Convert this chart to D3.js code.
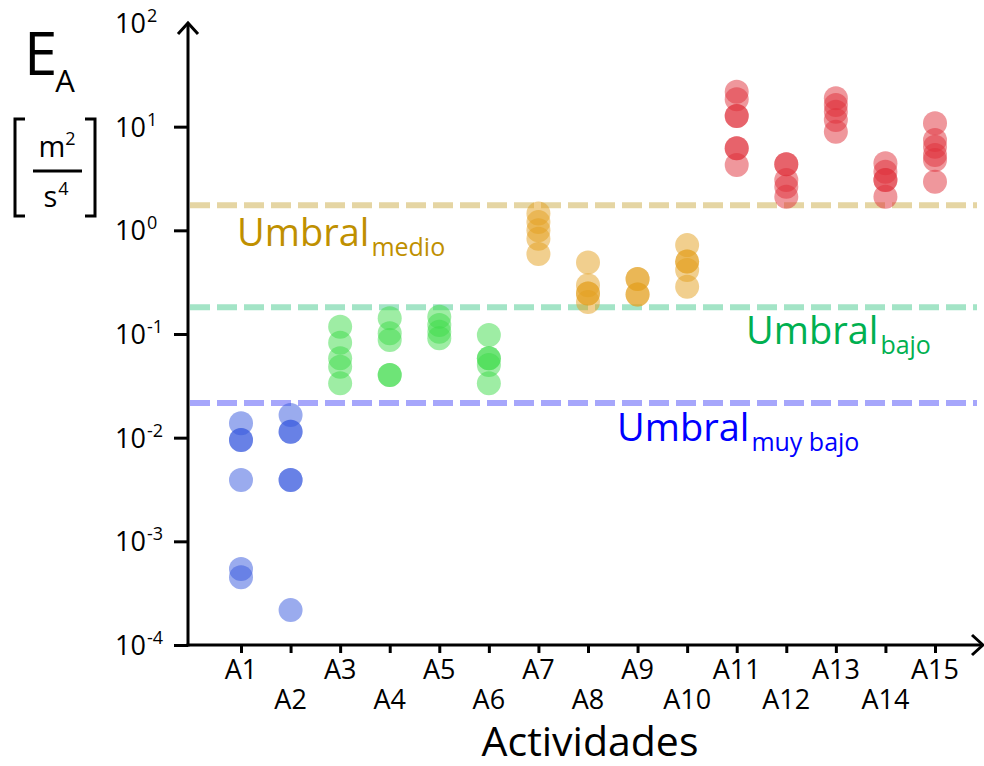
<!DOCTYPE html>
<html>
<head>
<meta charset="utf-8">
<script src="https://cdn.jsdelivr.net/npm/d3@7"></script>
<style>
  html, body { margin: 0; padding: 0; background: #fff; }
  svg { display: block; font-family: "Open Sans", "DejaVu Sans", sans-serif; }
</style>
</head>
<body>
<svg id="chart" width="984" height="766"></svg>
<script>
// Activities on the x axis
const actividades = ["A1","A2","A3","A4","A5","A6","A7","A8","A9","A10","A11","A12","A13","A14","A15"];

// Measured E_A values (m²/s⁴) for each activity
const a1  = [0.0138, 0.0095, 0.0095, 0.0039, 0.00054, 0.00045];
const a2  = [0.0165, 0.0114, 0.0114, 0.0039, 0.0039, 0.000217];
const a3  = [0.1175, 0.0824, 0.0582, 0.0483, 0.0334];
const a4  = [0.1416, 0.1015, 0.0875, 0.0402, 0.0402];
const a5  = [0.1468, 0.122, 0.105, 0.0908];
const a6  = [0.0977, 0.0582, 0.0582, 0.0502, 0.0334];
const a7  = [1.45, 1.20, 1.0, 0.83, 0.59];
const a8  = [0.49, 0.296, 0.246, 0.246, 0.203];
const a9  = [0.34, 0.34, 0.24, 0.24];
const a10 = [0.72, 0.50, 0.50, 0.414, 0.286];
const a11 = [21.7, 18.4, 12.7, 12.7, 6.18, 6.18, 4.27];
const a12 = [4.33, 4.33, 3.06, 2.63, 2.11];
const a13 = [18.8, 16.2, 13.9, 11.6, 8.93];
const a14 = [4.43, 3.67, 3.06, 3.06, 2.11];
const a15 = [10.8, 7.43, 6.4, 5.33, 4.76, 2.94];
const valores = [a1, a2, a3, a4, a5, a6, a7, a8, a9, a10, a11, a12, a13, a14, a15];

// Exposure level of each activity (colour group)
const nivel = ["muyBajo","muyBajo","bajo","bajo","bajo","bajo","medio","medio","medio","medio","alto","alto","alto","alto","alto"];

// Threshold lines
const umbralNombres = ["muy bajo", "bajo", "medio"];
const umbralValores = [0.0216, 0.1815, 1.745];

// Y axis decades
const decadas = [-4, -3, -2, -1, 0, 1, 2];

const colorPunto = { muyBajo: "#3557de", bajo: "#3ddc4a", medio: "#e39f1e", alto: "#e0303a" };
const colorLinea = { "muy bajo": "#a6a6fb", "bajo": "#a3e4c6", "medio": "#e5d5a3" };
const colorTexto = { "muy bajo": "#0000ff", "bajo": "#00b050", "medio": "#bf9000" };

const svg = d3.select("#chart");
const x0 = 188, yBottom = 645, yTop = 23, xRight = 983;

const x = d3.scalePoint().domain(actividades).range([241, 935]);
const y = d3.scaleLog().domain([1e-4, 1e2]).range([yBottom, yTop]);

// Threshold dashed lines
umbralNombres.forEach((n, i) => {
  svg.append("line")
    .attr("x1", x0 + 2).attr("x2", 977)
    .attr("y1", y(umbralValores[i])).attr("y2", y(umbralValores[i]))
    .attr("stroke", colorLinea[n]).attr("stroke-width", 6)
    .attr("stroke-dasharray", "20,7");
});

// Threshold labels
const etiquetas = [
  { n: "medio", x: 237, base: 246, sub: "medio" },
  { n: "bajo", x: 746, base: 344, sub: "bajo" },
  { n: "muy bajo", x: 617, base: 441, sub: "muy bajo" }
];
etiquetas.forEach(e => {
  const t = svg.append("text")
    .attr("x", e.x).attr("y", e.base)
    .attr("fill", colorTexto[e.n])
    .attr("font-size", 38);
  t.append("tspan").text("Umbral");
  t.append("tspan").attr("font-size", 25).attr("dy", 10).attr("dx", 2).text(e.sub);
});

// Points
const puntos = [];
valores.forEach((vals, i) => vals.forEach(v => puntos.push({ act: actividades[i], v, nivel: nivel[i] })));
svg.append("g").selectAll("circle")
  .data(puntos).join("circle")
  .attr("cx", d => x(d.act))
  .attr("cy", d => y(d.v))
  .attr("r", 12)
  .attr("fill", d => colorPunto[d.nivel])
  .attr("fill-opacity", 0.5);

// Y axis ticks
const yAxis = d3.axisLeft(y)
  .tickValues(decadas.filter(d => d < 2).map(d => Math.pow(10, d)))
  .tickSizeInner(14).tickSizeOuter(0).tickFormat("");
const gy = svg.append("g").attr("transform", `translate(${x0},0)`).call(yAxis);
gy.select(".domain").remove();
gy.selectAll(".tick line").attr("stroke", "#000").attr("stroke-width", 3);

// Y tick labels: 10 with superscript exponent
decadas.forEach(d => {
  const t = svg.append("text")
    .attr("x", 115).attr("y", y(Math.pow(10, d)) + 10)
    .attr("font-size", 27).attr("fill", "#000");
  t.append("tspan").text("10");
  t.append("tspan").attr("font-size", 18).attr("dy", -11).attr("dx", 1).text(d);
});

// X axis ticks and labels
const xAxis = d3.axisBottom(x).tickSizeInner(8).tickSizeOuter(0).tickFormat("");
const gx = svg.append("g").attr("transform", `translate(0,${yBottom})`).call(xAxis);
gx.select(".domain").remove();
gx.selectAll(".tick line").attr("stroke", "#000").attr("stroke-width", 3);

svg.append("g").selectAll("text")
  .data(actividades).join("text")
  .attr("x", d => x(d))
  .attr("y", (d, i) => i % 2 === 0 ? 679 : 709)
  .attr("text-anchor", "middle")
  .attr("font-size", 27)
  .attr("fill", "#000")
  .text(d => d);

// Axis lines with open arrowheads
const ejes = svg.append("g").attr("stroke", "#000").attr("stroke-width", 3).attr("fill", "none");
ejes.append("line").attr("x1", x0).attr("x2", x0).attr("y1", yBottom + 1.5).attr("y2", yTop);
ejes.append("line").attr("x1", x0 - 1.5).attr("x2", xRight).attr("y1", yBottom).attr("y2", yBottom);
ejes.append("path").attr("d", `M${x0 - 10},${yTop + 11}L${x0},${yTop}L${x0 + 10},${yTop + 11}`);
ejes.append("path").attr("d", `M${xRight - 11},${yBottom - 10}L${xRight},${yBottom}L${xRight - 11},${yBottom + 10}`);

// X axis title
svg.append("text")
  .attr("x", 590).attr("y", 756)
  .attr("text-anchor", "middle")
  .attr("font-size", 41).attr("fill", "#000")
  .text("Actividades");

// Y axis title: E_A with units [m²/s⁴]
const ea = svg.append("text").attr("x", 24).attr("y", 75).attr("font-size", 60).attr("fill", "#000");
ea.append("tspan").text("E");
ea.append("tspan").attr("font-size", 31).attr("dy", 17).attr("dx", -2).text("A");

const br = svg.append("g").attr("stroke", "#000").attr("stroke-width", 3).attr("fill", "none");
br.append("path").attr("d", "M25,119H15V216H25");
br.append("path").attr("d", "M85,119H95V216H85");
br.append("line").attr("x1", 33).attr("x2", 82).attr("y1", 171).attr("y2", 171);

const num = svg.append("text").attr("x", 57).attr("y", 157).attr("text-anchor", "middle")
  .attr("font-size", 29).attr("fill", "#000");
num.append("tspan").text("m");
num.append("tspan").attr("font-size", 18).attr("dy", -12).text("2");

const den = svg.append("text").attr("x", 56).attr("y", 207).attr("text-anchor", "middle")
  .attr("font-size", 29).attr("fill", "#000");
den.append("tspan").text("s");
den.append("tspan").attr("font-size", 18).attr("dy", -12).attr("dx", 1).text("4");
</script>
</body>
</html>
